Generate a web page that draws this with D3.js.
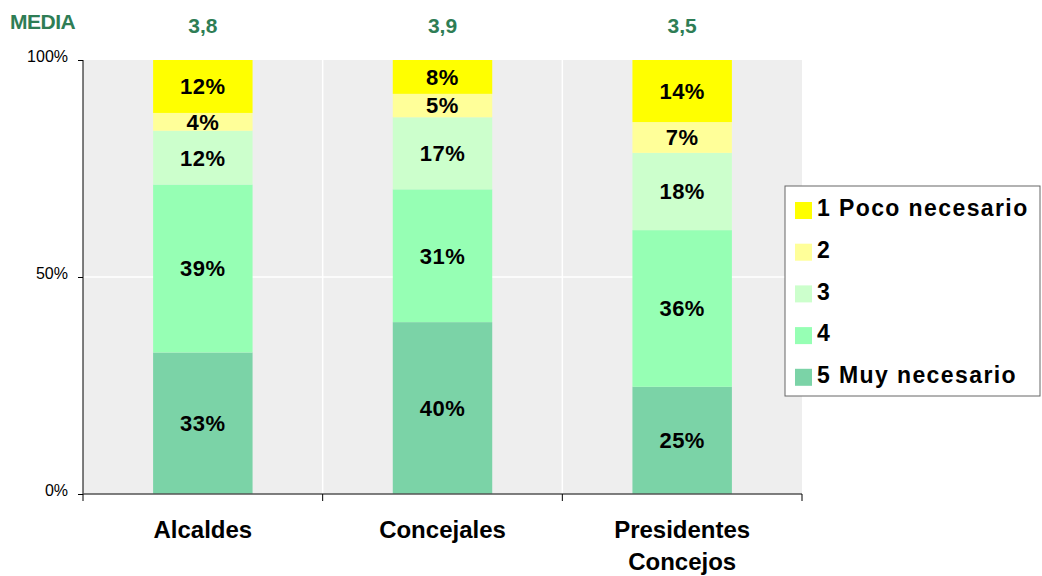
<!DOCTYPE html>
<html>
<head>
<meta charset="utf-8">
<script src="https://cdn.jsdelivr.net/npm/d3@7"></script>
<style>
  body { margin: 0; background: #fff; }
  svg { font-family: Arial, "Liberation Sans", sans-serif; }
</style>
</head>
<body>
<svg width="1042" height="576"></svg>
<script>
// data (percent, bottom segment first)
var categories = ["Alcaldes", "Concejales", "Presidentes Concejos"];
var seriesNames = ["5 Muy necesario", "4", "3", "2", "1 Poco necesario"];
var muyNecesario = [32.6, 39.6, 24.7];
var cuatro = [38.7, 30.6, 36.1];
var tres = [12.4, 16.6, 17.8];
var dos = [4.1, 5.4, 7.1];
var pocoNecesario = [12.2, 7.8, 14.3];
var medias = ["3,8", "3,9", "3,5"];
var yTicks = [0, 50, 100];
var colors = ["#7bd3a7", "#96ffb4", "#ccffcc", "#ffff99", "#ffff00"];

var svg = d3.select("svg");
var margin = {top: 60, left: 83, right: 240, bottom: 82};
var width = 1042 - margin.left - margin.right,
    height = 576 - margin.top - margin.bottom;

var g = svg.append("g").attr("transform", "translate(" + margin.left + "," + margin.top + ")");

var x = d3.scaleBand().domain(categories).range([0, width]).paddingInner(0).paddingOuter(0);
var y = d3.scaleLinear().domain([0, 100]).range([height, 0]);

var table = categories.map(function (c, i) {
    return {cat: c, s0: muyNecesario[i], s1: cuatro[i], s2: tres[i], s3: dos[i], s4: pocoNecesario[i]};
});
var stack = d3.stack().keys(["s0", "s1", "s2", "s3", "s4"]);
var layers = stack(table);

// background
g.append("rect").attr("width", width).attr("height", height).attr("fill", "#eeeeee");

// gridlines
g.selectAll(".vgrid")
    .data(categories.slice(1))
    .enter().append("line")
    .attr("x1", function (d) { return x(d); })
    .attr("x2", function (d) { return x(d); })
    .attr("y1", 0).attr("y2", height)
    .style("stroke", "#ffffff").style("stroke-width", 1.5);
g.append("line")
    .attr("x1", 0).attr("x2", width)
    .attr("y1", y(50)).attr("y2", y(50))
    .style("stroke", "#ffffff").style("stroke-width", 1.5);

var barW = x.bandwidth() * 0.415;

var layer = g.selectAll(".layer")
    .data(layers)
    .enter().append("g")
    .attr("class", "layer")
    .attr("fill", function (d, i) { return colors[i]; });

layer.selectAll("rect")
    .data(function (d) { return d; })
    .enter().append("rect")
    .attr("x", function (d) { return x(d.data.cat) + (x.bandwidth() - barW) / 2; })
    .attr("width", barW)
    .attr("y", function (d) { return y(d[1]); })
    .attr("height", function (d) { return y(d[0]) - y(d[1]); });

layer.selectAll("text")
    .data(function (d) { return d; })
    .enter().append("text")
    .attr("x", function (d) { return x(d.data.cat) + x.bandwidth() / 2; })
    .attr("y", function (d) { return (y(d[0]) + y(d[1])) / 2; })
    .attr("dy", "0.36em")
    .attr("text-anchor", "middle")
    .style("font-size", "22px")
    .style("font-weight", "bold")
    .style("letter-spacing", "0.5px")
    .style("fill", "#000")
    .text(function (d) { return Math.round(d[1] - d[0]) + "%"; });

// y axis
var yAxis = g.append("g")
    .call(d3.axisLeft(y).tickValues(yTicks).tickSize(5).tickFormat(function (d) { return d + "%"; }));
yAxis.select(".domain").attr("stroke", "#000").attr("d", "M0," + height + "V0");
yAxis.selectAll(".tick line").attr("stroke", "#000");
yAxis.selectAll("text").style("font-size", "16px").style("fill", "#000").attr("x", -15).attr("dy", "0.1em");

// x axis
var xAxis = g.append("g").attr("transform", "translate(0," + height + ")");
xAxis.append("line").attr("x1", 0).attr("x2", width).attr("y1", 0).attr("y2", 0)
    .style("stroke", "#555").style("stroke-width", 1.5);
xAxis.selectAll(".xt")
    .data(d3.range(categories.length + 1))
    .enter().append("line")
    .attr("x1", function (d) { return d * x.step(); })
    .attr("x2", function (d) { return d * x.step(); })
    .attr("y1", 0).attr("y2", 7)
    .style("stroke", "#000");

var catLabel = xAxis.selectAll(".cat")
    .data(categories)
    .enter().append("text")
    .attr("x", function (d) { return x(d) + x.bandwidth() / 2; })
    .attr("y", 44)
    .attr("text-anchor", "middle")
    .style("font-size", "24px")
    .style("font-weight", "bold")
    .style("fill", "#000");
catLabel.each(function (d) {
    var words = d === "Presidentes Concejos" ? ["Presidentes", "Concejos"] : [d];
    var t = d3.select(this);
    words.forEach(function (w, i) {
        t.append("tspan").attr("x", x(d) + x.bandwidth() / 2).attr("dy", i ? 32 : 0).text(w);
    });
});

// media row
svg.append("text")
    .attr("x", 10).attr("y", 29)
    .style("font-size", "21px").style("font-weight", "bold")
    .style("fill", "#2e7d55").style("letter-spacing", "-0.5px")
    .text("MEDIA");
g.selectAll(".media")
    .data(medias)
    .enter().append("text")
    .attr("x", function (d, i) { return x(categories[i]) + x.bandwidth() / 2; })
    .attr("y", -27)
    .attr("text-anchor", "middle")
    .style("font-size", "21px").style("font-weight", "bold")
    .style("fill", "#2e7d55")
    .text(function (d) { return d; });

// legend
var legend = svg.append("g").attr("transform", "translate(785,186)");
legend.append("rect").attr("width", 255).attr("height", 210)
    .attr("fill", "#fff").attr("stroke", "#666").attr("stroke-width", 1);
var legendOrder = [4, 3, 2, 1, 0];
var item = legend.selectAll(".item")
    .data(legendOrder)
    .enter().append("g")
    .attr("transform", function (d, i) { return "translate(10," + (23 + i * 41.7) + ")"; });
item.append("rect")
    .attr("x", 0).attr("y", -7).attr("width", 17).attr("height", 17)
    .attr("fill", function (d) { return colors[d]; });
item.append("text")
    .attr("x", 22).attr("y", -1).attr("dy", "0.36em")
    .style("font-size", "23px").style("font-weight", "bold")
    .style("letter-spacing", "1.4px")
    .text(function (d) { return seriesNames[d]; });
</script>
</body>
</html>
